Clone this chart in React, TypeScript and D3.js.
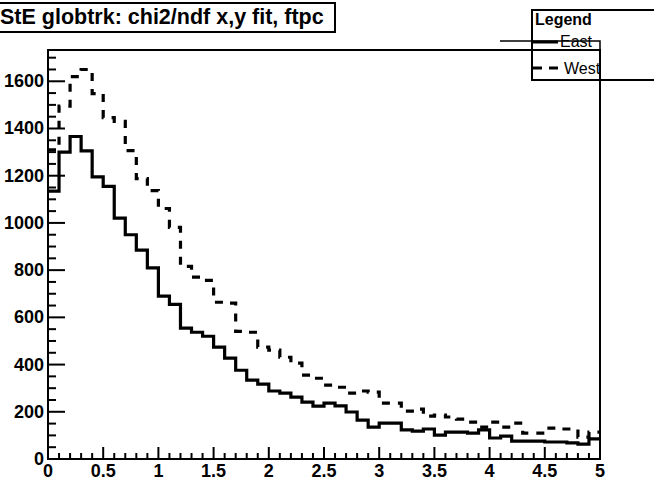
import React from "react";
import * as d3 from "d3";

const title = "StE globtrk: chi2/ndf x,y fit, ftpc";
const xMin = 0;
const xMax = 5;
const nBins = 50;
const xTicks = [0, 0.5, 1, 1.5, 2, 2.5, 3, 3.5, 4, 4.5, 5];
const xTickLabels = ["0", "0.5", "1", "1.5", "2", "2.5", "3", "3.5", "4", "4.5", "5"];
const yTicks = [0, 200, 400, 600, 800, 1000, 1200, 1400, 1600];
const seriesNames = ["East", "West"];

const east = [
  1135, 1300, 1366, 1305, 1195, 1155, 1020, 950, 885, 810,
  690, 655, 554, 537, 520, 474, 427, 376, 334, 317,
  288, 279, 262, 241, 224, 237, 225, 199, 165, 135,
  152, 152, 123, 118, 127, 101, 114, 114, 110, 123,
  89, 97, 76, 76, 76, 72, 72, 68, 63, 85,
];
const west = [
  1310, 1495, 1620, 1650, 1548, 1446, 1430, 1306, 1188, 1137,
  1061, 981, 816, 770, 757, 664, 660, 541, 537, 474,
  461, 431, 406, 355, 342, 313, 304, 279, 288, 283,
  237, 237, 203, 211, 182, 186, 178, 169, 156, 135,
  156, 135, 152, 110, 110, 131, 127, 127, 93, 114,
];

const W = 654;
const H = 482;
const FONT = "'Liberation Sans', Arial, Helvetica, sans-serif";

export default function App() {
  const left = 48;
  const right = 600;
  const top = 50;
  const bottom = 459;
  const yMax = 1.05 * Math.max(d3.max(east) as number, d3.max(west) as number);

  const x = d3.scaleLinear().domain([xMin, xMax]).range([left, right]);
  const y = d3.scaleLinear().domain([0, yMax]).range([bottom, top]);
  const bw = (xMax - xMin) / nBins;

  const stepPath = (vals: number[]) => {
    const pts: [number, number][] = vals.map((v, i) => [xMin + i * bw, v]);
    pts.push([xMax, vals[vals.length - 1]]);
    return d3
      .line<[number, number]>()
      .x((d) => x(d[0]))
      .y((d) => y(d[1]))
      .curve(d3.curveStepAfter)(pts) as string;
  };

  const xMinor = d3.range(0, 51).map((i) => xMin + i * 0.1);
  const yMinor = d3.range(0, Math.floor(yMax / 50) + 1).map((i) => i * 50);

  return (
    <svg
      width={W}
      height={H}
      style={{ position: "fixed", left: 0, top: 0, background: "#fff" }}
      fontFamily={FONT}
    >
      <rect x={0} y={0} width={W} height={H} fill="#fff" />
      {/* histograms */}
      <path d={stepPath(west)} fill="none" stroke="#000" strokeWidth={3.2} strokeDasharray="8,8" />
      <path d={stepPath(east)} fill="none" stroke="#000" strokeWidth={3.2} />

      {/* frame */}
      <rect x={left} y={top} width={right - left} height={bottom - top} fill="none" stroke="#000" strokeWidth={2} />

      {/* y axis ticks */}
      {yMinor.map((v) => (
        <line key={"ym" + v} x1={left} x2={left + (v % 200 === 0 ? 17 : 8)} y1={y(v)} y2={y(v)} stroke="#000" strokeWidth={2} />
      ))}
      {yTicks.map((v) => (
        <text key={"yl" + v} x={44} y={y(v) + 6} textAnchor="end" fontSize={18} fontWeight="bold">
          {v}
        </text>
      ))}

      {/* x axis ticks */}
      {xMinor.map((v, i) => (
        <line key={"xm" + i} x1={x(v)} x2={x(v)} y1={bottom} y2={bottom - (i % 5 === 0 ? 12 : 6)} stroke="#000" strokeWidth={2} />
      ))}
      {xTicks.map((v, i) => (
        <text key={"xl" + i} x={x(v)} y={477} textAnchor="middle" fontSize={18} fontWeight="bold">
          {xTickLabels[i]}
        </text>
      ))}

      {/* title box */}
      <rect x={-5} y={3} width={340} height={29} fill="#fff" stroke="#000" strokeWidth={2} />
      <text x={0} y={24} fontSize={21.5} fontWeight="bold">
        {title}
      </text>

      {/* legend */}
      <rect x={532} y={10} width={130} height={70} fill="none" stroke="#000" strokeWidth={2} />
      <polyline points={`500,41 600,41 600,50`} fill="none" stroke="#000" strokeWidth={1.5} />
      <text x={535} y={25} fontSize={16} fontWeight="bold">
        Legend
      </text>
      <line x1={533} x2={558} y1={42} y2={42} stroke="#000" strokeWidth={3} />
      <text x={560} y={47} fontSize={16}>
        {seriesNames[0]}
      </text>
      <line x1={533} x2={558} y1={68} y2={68} stroke="#000" strokeWidth={3} strokeDasharray="9,7" />
      <text x={564} y={74} fontSize={16}>
        {seriesNames[1]}
      </text>
    </svg>
  );
}
